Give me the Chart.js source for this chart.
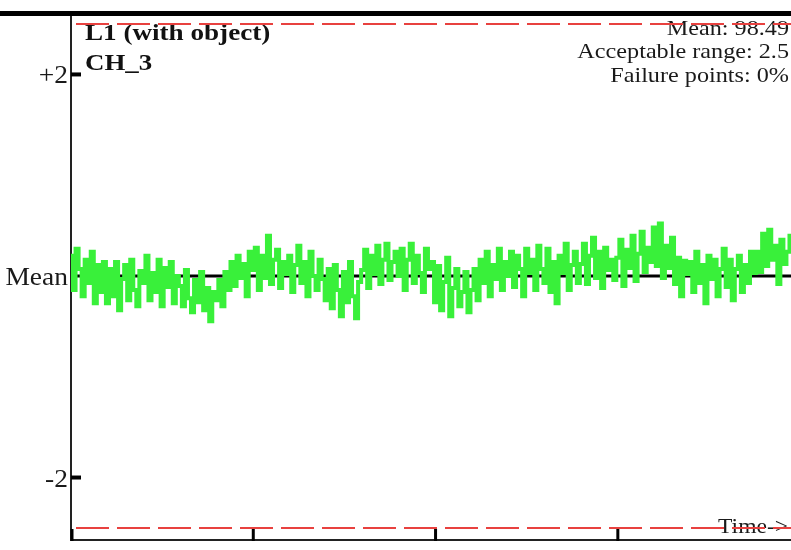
<!DOCTYPE html>
<html>
<head>
<meta charset="utf-8">
<script src="https://cdn.jsdelivr.net/npm/chart.js@4/dist/chart.umd.min.js"></script>
<style>
html,body{margin:0;padding:0;background:#fff;}
#wrap{width:791px;height:550px;position:relative;}
</style>
</head>
<body>
<div id="wrap"><canvas id="c" width="791" height="550"></canvas></div>
<script>
// ---- data ----
const titleLines = ["L1 (with object)", "CH_3"];
const statLines = ["Mean: 98.49", "Acceptable range: 2.5", "Failure points: 0%"];
const meanValue = 98.49;
const acceptableRange = 2.5;
const yTickValues = [-2, 0, 2];
const yTickLabels = ["-2", "Mean", "+2"];
const xTickValues = [0, 60, 120, 180];
const xAxisLabel = "Time->";
// deviation from mean, one value per sample
const deviation = [
  0.20, -0.14, 0.27, 0.07, -0.20, 0.16, -0.07, 0.24, -0.27, 0.11, -0.16, 0.14,
  -0.27, 0.07, -0.20, 0.14, -0.34, -0.03, 0.11, -0.24, 0.16, -0.14, -0.30, 0.05,
  -0.07, 0.20, -0.24, 0.03, -0.16, 0.16, -0.30, 0.08, -0.11, 0.14, -0.27, 0.00,
  -0.10, -0.30, 0.06, -0.22, -0.36, -0.04, -0.26, 0.04, -0.34, -0.12, -0.45, -0.16,
  -0.24, -0.04, -0.30, 0.04, -0.14, 0.14, -0.10, 0.20, -0.02, 0.12, -0.20, 0.24,
  0.06, 0.28, -0.14, 0.20, -0.02, 0.40, -0.08, 0.16, 0.26, -0.12, 0.14, 0.02,
  0.20, -0.16, 0.11, 0.30, -0.07, 0.14, -0.20, 0.24, 0.00, -0.14, 0.16, -0.03,
  -0.24, 0.07, -0.32, 0.11, -0.14, -0.40, 0.04, -0.26, 0.14, -0.20, -0.42, -0.06,
  0.06, 0.26, -0.12, 0.20, 0.02, 0.30, -0.08, 0.16, 0.32, -0.04, 0.14, 0.24,
  0.00, 0.27, -0.14, 0.16, 0.32, -0.07, 0.20, 0.03, -0.16, 0.27, 0.07, 0.14,
  -0.26, 0.10, -0.34, -0.06, 0.18, -0.40, -0.12, 0.07, -0.30, -0.16, 0.04, -0.36,
  -0.14, 0.07, -0.24, 0.16, -0.07, 0.24, -0.20, 0.11, -0.03, 0.27, -0.14, 0.14,
  0.00, 0.24, -0.11, 0.20, 0.07, -0.20, 0.27, 0.03, 0.16, -0.14, 0.30, 0.07,
  -0.07, 0.27, -0.16, 0.14, -0.27, 0.20, 0.03, 0.32, -0.14, 0.11, 0.24, -0.07,
  0.12, 0.32, -0.08, 0.20, 0.38, -0.02, 0.24, -0.12, 0.28, 0.06, 0.16, -0.04,
  0.18, 0.36, -0.10, 0.26, 0.08, 0.40, -0.05, 0.22, 0.44, 0.04, 0.28, 0.14,
  0.48, 0.10, 0.52, -0.02, 0.30, 0.08, 0.38, -0.08, 0.18, -0.20, 0.15, 0.02,
  0.14, -0.16, 0.24, -0.07, 0.11, -0.27, 0.20, -0.03, 0.16, -0.20, 0.07, 0.27,
  -0.11, 0.16, -0.24, 0.07, 0.20, -0.16, 0.11, -0.07, 0.24, 0.03,
  0.24, 0.04, 0.42, 0.10, 0.46, 0.16, 0.30, -0.08, 0.36, 0.12, 0.24, 0.40
];

// ---- chart ----
const lastX = deviation.length - 1;
const series = deviation.map((v, i) => ({x: i, y: v}));

function stretchedText(ctx, text, x, y, align, font, color, sx) {
  ctx.save();
  ctx.font = font;
  ctx.fillStyle = color;
  ctx.textBaseline = 'alphabetic';
  ctx.textAlign = 'left';
  const w = ctx.measureText(text).width * sx;
  let left = x;
  if (align === 'right') left = x - w;
  else if (align === 'center') left = x - w / 2;
  ctx.translate(left, y);
  ctx.scale(sx, 1);
  ctx.fillText(text, 0, 0);
  ctx.restore();
}

const decor = {
  id: 'decor',
  afterDraw(chart) {
    const ctx = chart.ctx;
    const a = chart.chartArea;
    const xs = chart.scales.x, ys = chart.scales.y;
    ctx.save();
    ctx.fillStyle = '#000';
    ctx.fillRect(0, 11, chart.width, 5);
    ctx.strokeStyle = '#000';
    ctx.lineWidth = 4;
    yTickValues.forEach(v => {
      if (v === 0) return;
      const py = ys.getPixelForValue(v);
      ctx.beginPath(); ctx.moveTo(a.left, py); ctx.lineTo(a.left + 10, py); ctx.stroke();
    });
    ctx.lineWidth = 3;
    xTickValues.forEach(v => {
      const px = xs.getPixelForValue(v) + (v === 0 ? 1 : 0);
      ctx.beginPath(); ctx.moveTo(px, a.bottom + 1); ctx.lineTo(px, a.bottom - 11); ctx.stroke();
    });
    ctx.restore();
    yTickValues.forEach((v, i) => {
      const py = ys.getPixelForValue(v) + 9;
      stretchedText(ctx, yTickLabels[i], a.left - 3, py, 'right', '25px "Liberation Serif"', '#1a1a1a', 1.1);
    });
    stretchedText(ctx, titleLines[0], 85, 40, 'left', 'bold 24px "Liberation Serif"', '#111', 1.13);
    stretchedText(ctx, titleLines[1], 85, 70, 'left', 'bold 24px "Liberation Serif"', '#111', 1.12);
    const base = [35, 58, 82];
    statLines.forEach((t, i) => stretchedText(ctx, t, 789, base[i], 'right', '22px "Liberation Serif"', '#1a1a1a', 1.1));
    stretchedText(ctx, xAxisLabel, 788, 533, 'right', '22px "Liberation Serif"', '#1a1a1a', 1.07);
    ctx.save();
    ctx.strokeStyle = '#e8413f';
    ctx.lineWidth = 2;
    ctx.setLineDash([33, 8]);
    [acceptableRange, -acceptableRange].forEach(v => {
      const py = ys.getPixelForValue(v);
      ctx.beginPath(); ctx.moveTo(a.left + 5, py); ctx.lineTo(a.right, py); ctx.stroke();
    });
    ctx.restore();
  }
};

new Chart(document.getElementById('c'), {
  type: 'line',
  data: {
    datasets: [
      {
        label: 'signal',
        data: series,
        borderColor: '#39f03a',
        borderWidth: 4,
        pointRadius: 0,
        stepped: 'middle',
        order: 1
      },
      {
        label: 'mean',
        data: [{x: 0, y: 0}, {x: lastX, y: 0}],
        borderColor: '#000',
        borderWidth: 3,
        pointRadius: 0,
        order: 2
      }
    ]
  },
  options: {
    responsive: false,
    animation: false,
    devicePixelRatio: 1,
    layout: {padding: {top: 16, right: 0, bottom: 0, left: 0}},
    plugins: {legend: {display: false}, tooltip: {enabled: false}, title: {display: false}},
    scales: {
      x: {
        type: 'linear', min: 0, max: lastX,
        grid: {display: false},
        ticks: {display: false},
        border: {display: true, color: '#222', width: 2},
        afterBuildTicks: s => { s.ticks = xTickValues.map(v => ({value: v})); },
        afterFit: s => { s.height = 10; }
      },
      y: {
        type: 'linear', min: -2.62, max: 2.58,
        grid: {display: false},
        ticks: {display: false},
        border: {display: true, color: '#222', width: 2},
        afterBuildTicks: s => { s.ticks = yTickValues.map(v => ({value: v})); },
        afterFit: s => { s.width = 71; }
      }
    }
  },
  plugins: [decor]
});
</script>
</body>
</html>
